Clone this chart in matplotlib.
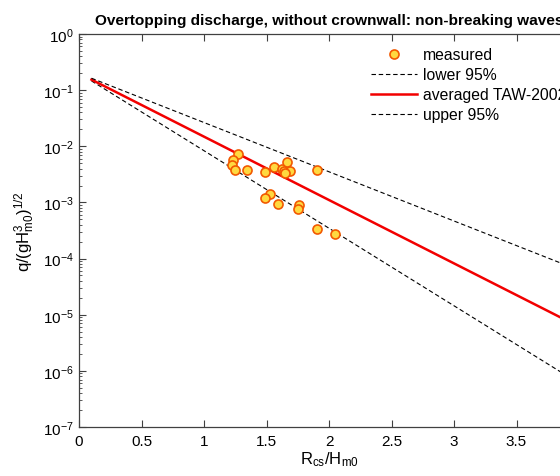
import numpy as np
from matplotlib import pyplot as plt

plt.rcParams['font.family'] = ['Liberation Sans', 'DejaVu Sans']
plt.rcParams['mathtext.default'] = 'regular'

# measured points
meas_x = [1.27, 1.23, 1.22, 1.25, 1.34, 1.49, 1.56, 1.62, 1.64, 1.66,
          1.69, 1.65, 1.90, 1.53, 1.49, 1.59, 1.76, 1.75, 1.90, 2.05]
meas_y = [7.4e-3, 5.6e-3, 4.6e-3, 3.8e-3, 3.8e-3, 3.5e-3, 4.2e-3, 4.0e-3, 3.6e-3, 5.3e-3,
          3.6e-3, 3.3e-3, 3.8e-3, 1.4e-3, 1.2e-3, 9.2e-4, 8.9e-4, 7.5e-4, 3.3e-4, 2.7e-4]

# end points of the TAW lines
fit_x = [0.1, 4.0]
lower_y = [0.146, 6.0e-7]
taw_y = [0.154, 6.1e-6]
upper_y = [0.163, 6.2e-5]

xticks = [0, 0.5, 1, 1.5, 2, 2.5, 3, 3.5, 4]
xticklabels = ['0', '0.5', '1', '1.5', '2', '2.5', '3', '3.5', '']  # 4 falls outside the crop

W, H = 560, 477
fig = plt.figure(figsize=(W / 100, H / 100), dpi=100)
ax = fig.add_axes([79 / W, (H - 428) / H, 500 / W, 393 / H])

ax.semilogy(meas_x, meas_y, 'o', mfc=(1.0, 0.85, 0.25), mec=(0.95, 0.35, 0.0),
            ms=6.5, mew=1.2, label='measured', zorder=4)
ax.semilogy(fit_x, lower_y, color='k', lw=0.8, ls=(0, (4, 2.5)), label='lower 95%')
ax.semilogy(fit_x, taw_y, color=(0.95, 0.0, 0.0), lw=1.8, label='averaged TAW-2002')
ax.semilogy(fit_x, upper_y, color='k', lw=0.8, ls=(0, (4, 2.5)), label='upper 95%')

ax.set_xlim(0, 4)
ax.set_ylim(1e-7, 1)
ax.set_xticks(xticks)
ax.set_xticklabels(xticklabels)
ax.set_yticks([10.0 ** k for k in range(-7, 1)])
ax.tick_params(which='both', direction='in', top=True, right=True, labelsize=11,
               color='0.25')
ax.tick_params(which='major', length=5, width=0.8)
ax.tick_params(which='minor', length=2.5, width=0.6)
ax.tick_params(axis='x', pad=5)
ax.tick_params(axis='y', pad=4)
for s in ax.spines.values():
    s.set_linewidth(0.9)
    s.set_color('0.25')

ax.set_title('Overtopping discharge, without crownwall: non-breaking waves',
             fontsize=11.05, fontweight='bold', pad=7)
ax.set_xlabel('$R_{cs}/H_{m0}$', fontsize=12, labelpad=1)
ax.set_ylabel('$q/(gH^3_{m0})^{1/2}$', fontsize=12)

ax.legend(loc='upper left', bbox_to_anchor=(0.572, 0.982), frameon=False,
          fontsize=11.3, handlelength=2.9, handletextpad=0.42, labelspacing=0.32,
          borderaxespad=0)

fig.savefig('out.png', dpi=100)
